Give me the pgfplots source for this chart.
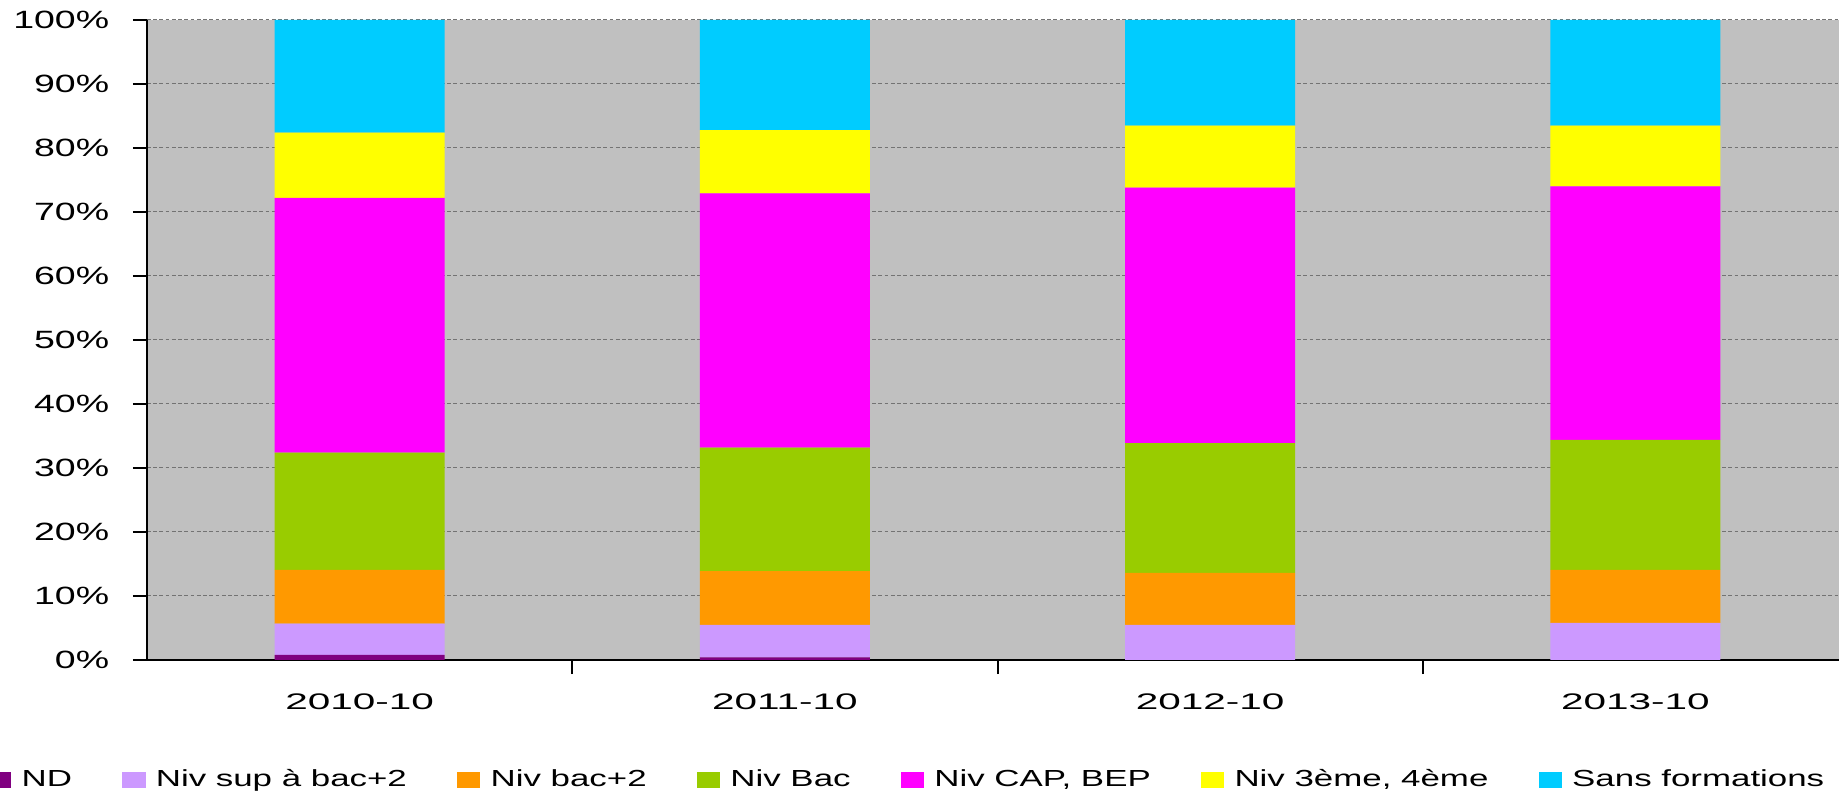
\documentclass[border=0pt]{standalone}
\usepackage{fontspec}
\setmainfont[FakeStretch=1.5]{Liberation Sans}
\newfontfamily\xfont[FakeStretch=1.8]{Liberation Sans}
\usepackage{pgfplots}
\pgfplotsset{compat=1.18}
\usepackage{pgfplotstable}

\definecolor{cND}{HTML}{800080}
\definecolor{cSup}{HTML}{CC99FF}
\definecolor{cBac2}{HTML}{FF9900}
\definecolor{cBac}{HTML}{99CC00}
\definecolor{cCap}{HTML}{FF00FF}
\definecolor{cTroi}{HTML}{FFFF00}
\definecolor{cSans}{HTML}{00CCFF}
\definecolor{plotbg}{HTML}{C0C0C0}

% share by level of education (%), one row per date
\pgfplotstableread{
x nd sup bacdeux bac cap troi sans
0 0.8 4.9 8.4 18.3 39.8 10.2 17.6
1 0.4 5.1 8.4 19.3 39.7  9.9 17.2
2 0.0 5.5 8.1 20.3 39.9  9.7 16.5
3 0.0 5.8 8.3 20.3 39.6  9.5 16.5
}\niveaux

\begin{document}
\begin{tikzpicture}
\begin{axis}[
  scale only axis,
  width=680.4pt, height=256pt,
  ybar stacked, bar width=0.4,
  xmin=-0.5, xmax=3.5, ymin=0, ymax=100,
  enlarge x limits=false,
  axis background/.style={fill=plotbg},
  axis x line*=bottom, axis y line*=left,
  axis line style={black, line width=0.9pt, -},
  tick align=outside, major tick length=5.6pt,
  tick style={black, line width=0.8pt},
  ytick={0,10,...,100},
  yticklabel={\pgfmathprintnumber{\tick}\%},
  yticklabel style={font=\fontsize{10}{12}\selectfont, xshift=-6pt},
  ymajorgrids,
  major grid style={draw=black!55, line width=0.4pt, dash pattern=on 1.5pt off 1pt},
  xtick={0.5,1.5,2.5}, xticklabels={},
  extra x ticks={0,1,2,3},
  extra x tick labels={2010-10,2011-10,2012-10,2013-10},
  extra x tick style={major tick length=0pt, grid=none,
    xticklabel style={font=\xfont\fontsize{9}{11}\selectfont, yshift=-10pt}},
  /pgf/number format/assume math mode=true,
  legend columns=-1,
  legend image code/.code={\fill[#1] (0pt,-3pt) rectangle (9.3pt,3.1pt);
    \path (11.3pt,0pt);},
  legend style={draw=none, fill=none, inner sep=0pt, outer sep=0pt,
    at={(axis description cs:0,0)}, anchor=west, xshift=-63.5pt, yshift=-48pt,
    font=\fontsize{9.3}{11}\selectfont,
    nodes={inner sep=2.1pt},
    /tikz/every even column/.append style={column sep=18pt}},
]
\addplot[fill=cND, draw=none] table[x=x, y=nd] {\niveaux};
\addlegendentry{ND}
\addplot[fill=cSup, draw=none] table[x=x, y=sup] {\niveaux};
\addlegendentry{Niv sup à bac+2}
\addplot[fill=cBac2, draw=none] table[x=x, y=bacdeux] {\niveaux};
\addlegendentry{Niv bac+2}
\addplot[fill=cBac, draw=none] table[x=x, y=bac] {\niveaux};
\addlegendentry{Niv Bac}
\addplot[fill=cCap, draw=none] table[x=x, y=cap] {\niveaux};
\addlegendentry{Niv CAP, BEP}
\addplot[fill=cTroi, draw=none] table[x=x, y=troi] {\niveaux};
\addlegendentry{Niv 3ème, 4ème}
\addplot[fill=cSans, draw=none] table[x=x, y=sans] {\niveaux};
\addlegendentry{Sans formations}
\end{axis}
\pgfresetboundingbox
\path[use as bounding box] (-58.8pt,-54pt) rectangle (676.8pt,264pt);
\end{tikzpicture}
\end{document}
